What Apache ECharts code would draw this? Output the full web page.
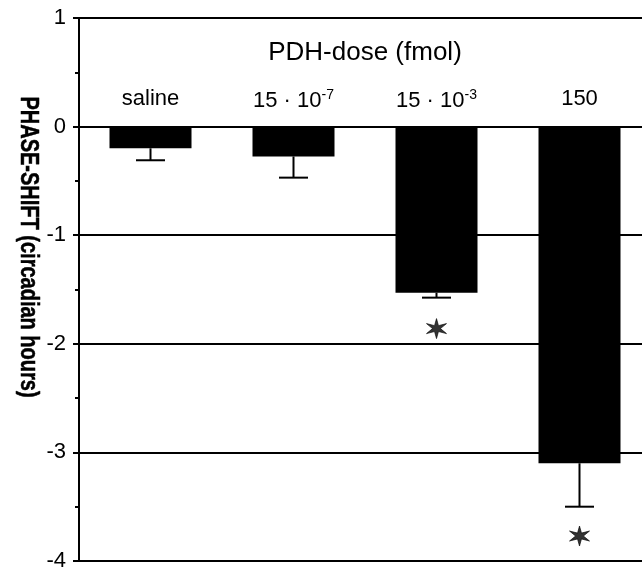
<!DOCTYPE html>
<html>
<head>
<meta charset="utf-8">
<script src="https://cdn.jsdelivr.net/npm/echarts@6/dist/echarts.min.js"></script>
<style>html,body{margin:0;padding:0;background:#fff;overflow:hidden}#c{width:660px;height:572px}</style>
</head>
<body>
<div id="c"></div>
<script>
var categories = ['saline', '15 · 10^-7', '15 · 10^-3', '150'];
var phaseShift = [-0.20, -0.275, -1.53, -3.10];
var errorLow = [-0.31, -0.47, -1.575, -3.50];
var starCategories = ['15 · 10^-3', '150'];
var starValues = [-1.86, -3.77];
var yTicks = [-4, -3, -2, -1, 0, 1];
var xTitle = 'PDH-dose (fmol)';
var yTitle = 'PHASE-SHIFT (circadian hours)';

var FONT = '"Liberation Sans", Arial, sans-serif';
var starPath = 'path://M10 0 L11.7 7.05 L18.66 5 L13.4 10 L18.66 15 L11.7 12.95 L10 20 L8.3 12.95 L1.34 15 L6.6 10 L1.34 5 L8.3 7.05 Z';

var chart = echarts.init(document.getElementById('c'), null, {renderer: 'canvas'});
var option = {
  animation: false,
  backgroundColor: '#fff',
  grid: {left: 79, top: 18, width: 572, height: 546},
  xAxis: {
    type: 'category',
    data: categories,
    position: 'top',
    axisLine: {show: false},
    axisTick: {show: false},
    splitLine: {show: false},
    name: xTitle,
    nameLocation: 'middle',
    nameGap: -35,
    nameTextStyle: {fontFamily: FONT, fontSize: 26, color: '#000', verticalAlign: 'middle'},
    axisLabel: {
      inside: true,
      interval: 0,
      margin: 70,
      color: '#000',
      fontFamily: FONT,
      fontSize: 22,
      formatter: function (v) {
        var p = v.split('^');
        if (p.length === 1) return '{b|' + v + '}';
        return '{b|' + p[0] + '}{s|' + p[1] + '}';
      },
      rich: {
        b: {fontFamily: FONT, fontSize: 22, color: '#000'},
        s: {fontFamily: FONT, fontSize: 14, color: '#000', verticalAlign: 'top', padding: [0, 0, 12, 0]}
      }
    }
  },
  yAxis: {
    type: 'value',
    min: yTicks[0],
    max: yTicks[yTicks.length - 1],
    interval: 1,
    axisLine: {show: true, lineStyle: {color: '#000', width: 2}},
    axisTick: {show: true, length: 6, lineStyle: {color: '#000', width: 2}},
    minorTick: {show: true, splitNumber: 2, length: 4, lineStyle: {color: '#000', width: 2}},
    splitLine: {show: true, lineStyle: {color: '#000', width: 2}},
    axisLabel: {color: '#000', fontFamily: FONT, fontSize: 22, margin: 13}
  },
  graphic: [{
    type: 'text',
    x: 28, y: 247,
    rotation: -Math.PI / 2,
    scaleY: 1.3,
    style: {
      text: yTitle,
      fontFamily: FONT, fontSize: 20, fontWeight: 'bold', fill: '#000',
      stroke: '#000', lineWidth: 0.4,
      align: 'center', verticalAlign: 'middle'
    }
  }],
  series: [
    {
      type: 'bar',
      data: phaseShift,
      barWidth: 82,
      itemStyle: {color: '#000'},
      z: 3
    },
    {
      type: 'custom',
      data: categories.map(function (c, i) { return [i, phaseShift[i], errorLow[i]]; }),
      z: 4,
      renderItem: function (params, api) {
        var i = api.value(0);
        var top = api.coord([i, api.value(1)]);
        var bot = api.coord([i, api.value(2)]);
        var hw = 14.5;
        return {
          type: 'group',
          children: [
            {type: 'line', shape: {x1: top[0], y1: top[1], x2: bot[0], y2: bot[1]}, style: {stroke: '#000', lineWidth: 2}},
            {type: 'line', shape: {x1: bot[0] - hw, y1: bot[1], x2: bot[0] + hw, y2: bot[1]}, style: {stroke: '#000', lineWidth: 2}}
          ]
        };
      }
    },
    {
      type: 'scatter',
      data: starCategories.map(function (c, i) { return [c, starValues[i]]; }),
      symbol: starPath,
      symbolSize: [20, 20],
      itemStyle: {color: '#000', borderColor: '#000', borderWidth: 0.8},
      z: 5
    }
  ]
};
chart.setOption(option);
</script>
</body>
</html>
